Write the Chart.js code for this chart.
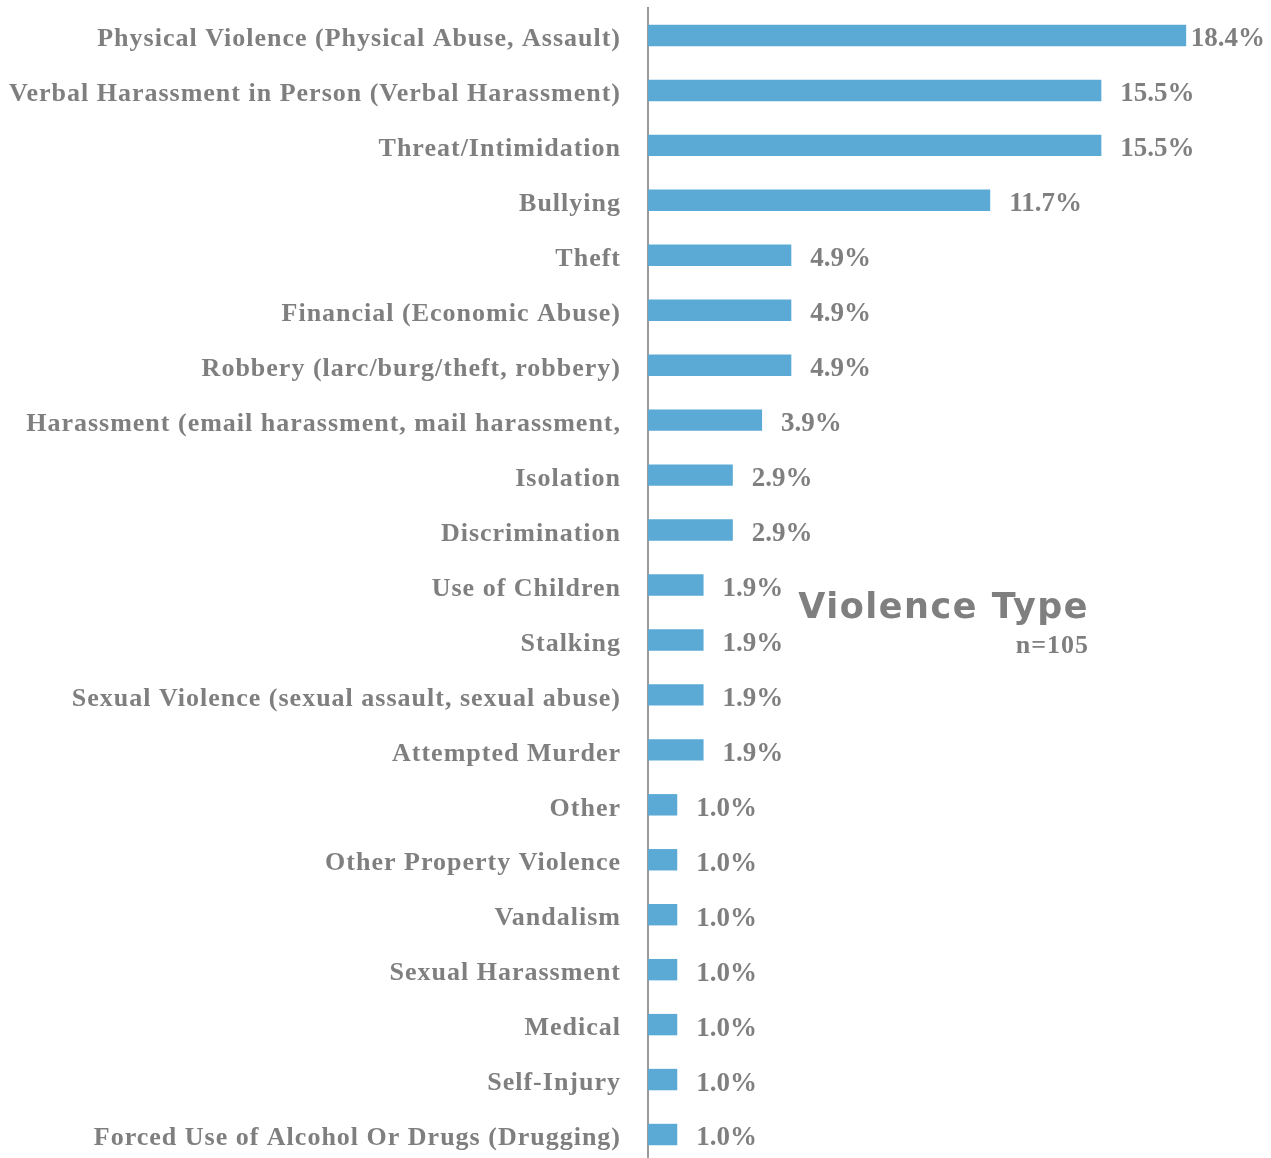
<!DOCTYPE html>
<html>
<head>
<meta charset="utf-8">
<script src="https://cdn.jsdelivr.net/npm/chart.js@4/dist/chart.umd.min.js"></script>
<style>
html,body{margin:0;padding:0;background:#fff;overflow:hidden;}
#wrap{position:relative;width:1271px;height:1162px;}
canvas{display:block;}
</style>
</head>
<body>
<div id="wrap"><canvas id="c" width="1271" height="1162"></canvas></div>
<script>
const categories = [
  "Physical Violence (Physical Abuse, Assault)",
  "Verbal Harassment in Person (Verbal Harassment)",
  "Threat/Intimidation",
  "Bullying",
  "Theft",
  "Financial (Economic Abuse)",
  "Robbery (larc/burg/theft, robbery)",
  "Harassment (email harassment, mail harassment,",
  "Isolation",
  "Discrimination",
  "Use of Children",
  "Stalking",
  "Sexual Violence (sexual assault, sexual abuse)",
  "Attempted Murder",
  "Other",
  "Other Property Violence",
  "Vandalism",
  "Sexual Harassment",
  "Medical",
  "Self-Injury",
  "Forced Use of Alcohol Or Drugs (Drugging)"
];
const percentages = [18.4, 15.5, 15.5, 11.7, 4.9, 4.9, 4.9, 3.9, 2.9, 2.9, 1.9, 1.9, 1.9, 1.9, 1.0, 1.0, 1.0, 1.0, 1.0, 1.0, 1.0];
const chartTitle = "Violence Type";
const chartSubtitle = "n=105";

const SERIF = '"Liberation Serif", "Times New Roman", serif';
const GRAY = '#7f7f7f';

const spacing = {
  id: 'spacing',
  beforeDraw(chart) { chart.ctx.letterSpacing = '1px'; },
  afterDraw(chart) { chart.ctx.letterSpacing = '0px'; }
};

const valueLabels = {
  id: 'valueLabels',
  afterDatasetsDraw(chart) {
    const ctx = chart.ctx;
    const meta = chart.getDatasetMeta(0);
    ctx.save();
    ctx.letterSpacing = '0px';
    ctx.font = 'bold 27px ' + SERIF;
    ctx.fillStyle = GRAY;
    ctx.textBaseline = 'middle';
    ctx.textAlign = 'left';
    meta.data.forEach((bar, i) => {
      const txt = percentages[i].toFixed(1) + '%';
      const w = ctx.measureText(txt).width;
      let x = bar.x + 19;
      if (x + w > chart.width - 6) x = Math.max(bar.x + 2, chart.width - 6 - w);
      ctx.fillText(txt, x, bar.y + 4);
    });
    ctx.restore();
  }
};

const titlePlugin = {
  id: 'titlePlugin',
  afterDraw(chart) {
    const ctx = chart.ctx;
    ctx.save();
    ctx.fillStyle = GRAY;
    ctx.textAlign = 'right';
    ctx.textBaseline = 'alphabetic';
    ctx.letterSpacing = '1.5px';
    ctx.font = 'bold 35px "DejaVu Sans", sans-serif';
    ctx.fillText(chartTitle, 1089, 618);
    ctx.letterSpacing = '1px';
    ctx.font = 'bold 26px ' + SERIF;
    ctx.fillText(chartSubtitle, 1089, 653);
    ctx.restore();
  }
};

new Chart(document.getElementById('c'), {
  type: 'bar',
  data: {
    labels: categories,
    datasets: [{
      data: percentages,
      backgroundColor: '#5BAAD6',
      borderWidth: 0,
      categoryPercentage: 1.0,
      barPercentage: 0.39
    }]
  },
  options: {
    indexAxis: 'y',
    responsive: false,
    animation: false,
    devicePixelRatio: 1,
    layout: { padding: { top: 8, right: 0, bottom: 0, left: 0 } },
    plugins: { legend: { display: false }, tooltip: { enabled: false }, title: { display: false } },
    scales: {
      x: { display: false, min: 0, max: 21.3 },
      y: {
        grid: { display: true, color: 'rgba(0,0,0,0)', drawTicks: false },
        border: { display: true, color: '#9a9a9a', width: 2 },
        ticks: {
          color: GRAY,
          font: { family: SERIF, size: 26, weight: 'bold' },
          padding: 27,
          labelOffset: 4,
          autoSkip: false
        },
        afterFit(scale) {
          scale.width = 648;
          scale.paddingTop = 0;
          scale.paddingBottom = 0;
        }
      }
    }
  },
  plugins: [spacing, valueLabels, titlePlugin]
});
</script>
</body>
</html>
